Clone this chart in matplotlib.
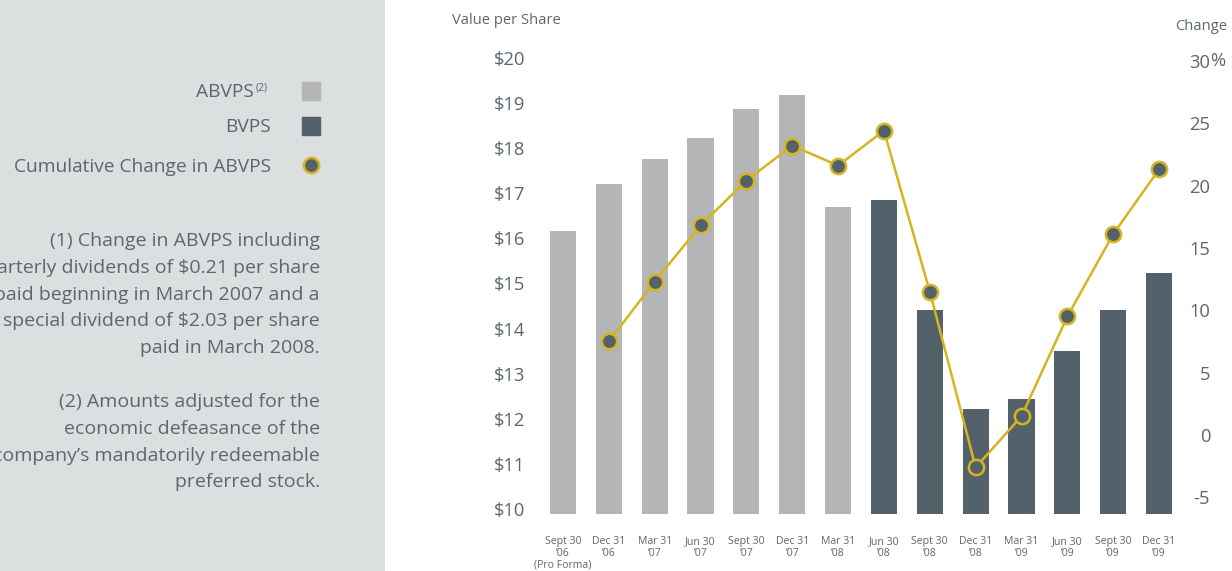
import matplotlib.pyplot as plt
from matplotlib.patches import Rectangle
from matplotlib.lines import Line2D
from matplotlib.transforms import blended_transform_factory

# data
quarters = ["Sept 30\n\u201906\n(Pro Forma)", "Dec 31\n\u201906", "Mar 31\n\u201907", "Jun 30\n\u201907",
            "Sept 30\n\u201907", "Dec 31\n\u201907", "Mar 31\n\u201908", "Jun 30\n\u201908",
            "Sept 30\n\u201908", "Dec 31\n\u201908", "Mar 31\n\u201909", "Jun 30\n\u201909",
            "Sept 30\n\u201909", "Dec 31\n\u201909"]
value_per_share = [16.16, 17.21, 17.76, 18.23, 18.87, 19.18, 16.70,
                   16.85, 14.41, 12.22, 12.44, 13.50, 14.41, 15.23]
is_abvps = [True, True, True, True, True, True, True,
            False, False, False, False, False, False, False]
cum_change = [None, 7.5, 12.3, 16.8, 20.4, 23.2, 21.6,
              24.4, 11.5, -2.6, 1.5, 9.5, 16.1, 21.3]
left_ticks = [10, 11, 12, 13, 14, 15, 16, 17, 18, 19, 20]
right_ticks = [-5, 0, 5, 10, 15, 20, 25, 30]

LIGHT = '#b4b5b7'
DARK = '#53616b'
YELLOW = '#d6b41f'
TXT = '#5b6770'
PANEL = '#dcdfe0'
FONT = 'Open Sans'

W, H = 1232, 571
fig = plt.figure(figsize=(W / 100, H / 100), dpi=100)
plt.rcParams['font.family'] = FONT

# left grey panel
pan = fig.add_axes([0, 0, 385 / W, 1])
pan.set_xlim(0, 385)
pan.set_ylim(H, 0)
pan.set_facecolor(PANEL)
pan.set_xticks([])
pan.set_yticks([])
for s in pan.spines.values():
    s.set_visible(False)

fs_leg = 13.8
pan.text(254, 92, "ABVPS", ha='right', va='center', fontsize=fs_leg, color=TXT)
pan.text(256, 88, "(2)", ha='left', va='center', fontsize=7.5, color=TXT)
pan.text(271, 127, "BVPS", ha='right', va='center', fontsize=fs_leg, color=TXT)
pan.text(271, 167, "Cumulative Change in ABVPS", ha='right', va='center', fontsize=fs_leg, color=TXT)
pan.add_patch(Rectangle((302, 82), 18, 18, color=LIGHT))
pan.add_patch(Rectangle((302, 117), 18, 18, color=DARK))
pan.add_line(Line2D([311], [165], marker='o', markersize=11, markerfacecolor=DARK,
                    markeredgecolor=YELLOW, markeredgewidth=1.8))

note1 = ["(1) Change in ABVPS including",
         "quarterly dividends of $0.21 per share",
         "paid beginning in March 2007 and a",
         "special dividend of $2.03 per share",
         "paid in March 2008."]
note2 = ["(2) Amounts adjusted for the",
         "economic defeasance of the",
         "company\u2019s mandatorily redeemable",
         "preferred stock."]
for i, line in enumerate(note1):
    pan.text(320, 241 + i * 26.8, line, ha='right', va='center', fontsize=14, color=TXT)
for i, line in enumerate(note2):
    pan.text(320, 402 + i * 26.8, line, ha='right', va='center', fontsize=14, color=TXT)

# main chart
step = 45.85
x0 = 563
left_px = x0 - 0.6 * step
width_px = 14.2 * step
ax = fig.add_axes([left_px / W, (H - 518) / H, width_px / W, 469 / H])
ax.set_xlim(-0.6, 13.6)
ax.set_ylim(9.8, 20.2)

xs = list(range(len(quarters)))
base = 9.88
heights = [v - base for v in value_per_share]
colors = [LIGHT if a else DARK for a in is_abvps]
ax.bar(xs, heights, bottom=base, width=0.57, color=colors, zorder=2)

ax.set_yticks(left_ticks)
ax.set_yticklabels(['$%d' % t for t in left_ticks])
ax.tick_params(axis='y', length=0, pad=7.5, labelsize=13.2, labelcolor=TXT)
ax.set_xticks(xs)
ax.set_xticklabels(quarters, fontsize=7.6, color=TXT, linespacing=1.1)
ax.tick_params(axis='x', length=0, pad=13)
for s in ax.spines.values():
    s.set_visible(False)

ax2 = ax.twinx()
ax2.set_ylim(-6.66, 30.95)
ax2.set_yticks(right_ticks)
ax2.set_yticklabels([str(t) for t in right_ticks])
ax2.tick_params(axis='y', length=0, pad=17, labelsize=13.2, labelcolor=TXT)
for lab in ax2.get_yticklabels():
    lab.set_horizontalalignment('right')
for s in ax2.spines.values():
    s.set_visible(False)
pct = blended_transform_factory(fig.transFigure, ax2.transData)
ax2.text(1210.5 / W, 30, '%', transform=pct, fontsize=13.2, color=TXT,
         ha='left', va='center')

lx = [x for x, c in zip(xs, cum_change) if c is not None]
ly = [c for c in cum_change if c is not None]
ax2.plot(lx, ly, color=YELLOW, linewidth=1.8, marker='o', markersize=11,
         markerfacecolor=DARK, markeredgecolor=YELLOW, markeredgewidth=1.8, zorder=3)

fig.text(452 / W, 1 - 20 / H, "Value per Share", ha='left', va='center', fontsize=10.6, color=TXT)
fig.text(1175 / W, 1 - 27 / H, "Change", ha='left', va='center', fontsize=10.6, color=TXT)

fig.savefig('out.png', dpi=100)
